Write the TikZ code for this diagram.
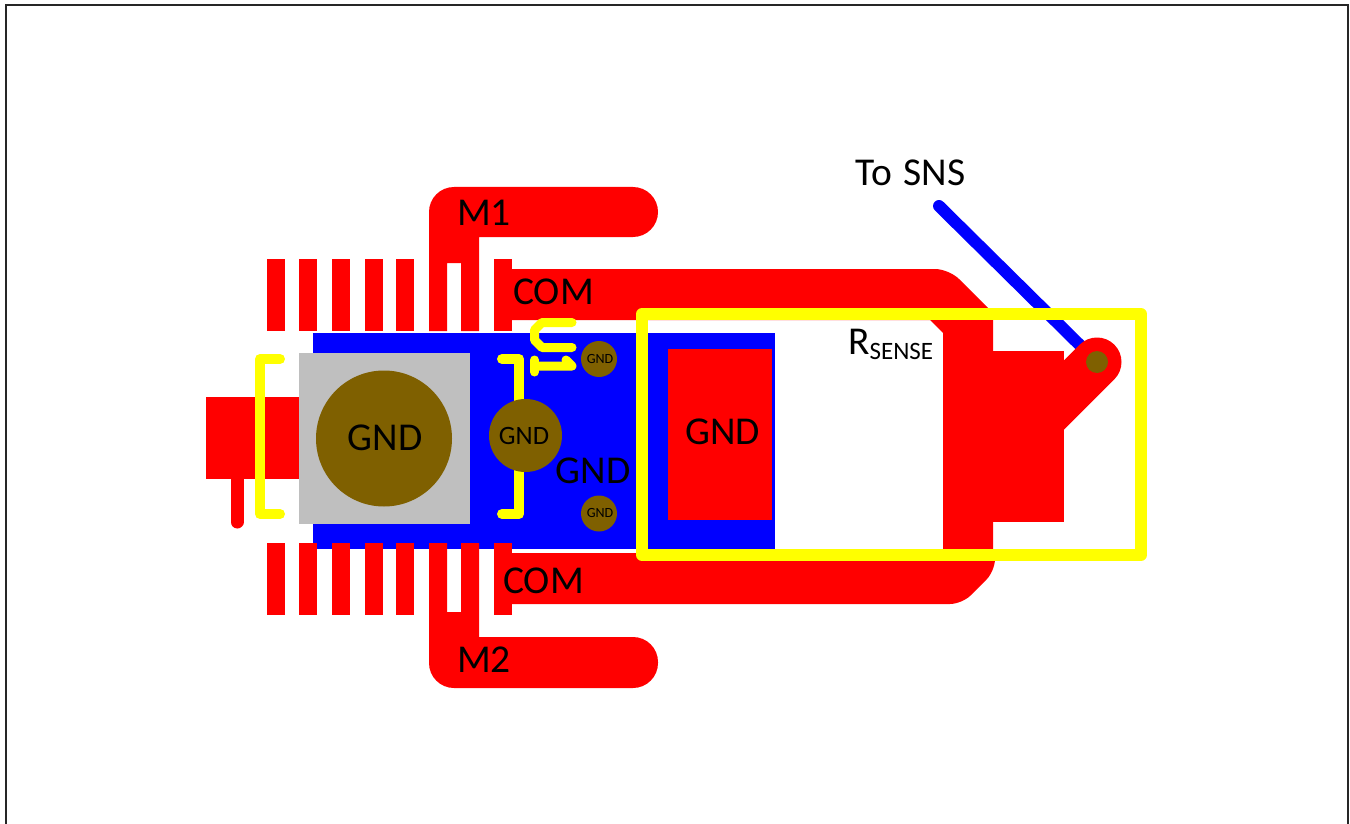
\documentclass[tikz,border=0pt]{standalone}
\usepackage{fontspec}
\setmainfont{Carlito}
\definecolor{viabrown}{HTML}{7F6000}
\definecolor{padgrey}{HTML}{BFBFBF}
\definecolor{silkyellow}{HTML}{FFFF00}

\begin{document}
\begin{tikzpicture}
  [x=1pt,y=-1pt,every node/.style={inner sep=0pt}]
 \tikzset{trace/.style={fill=red},
  silk/.style={draw=silkyellow,line width=10pt,line cap=round,line join=round},
  silkthin/.style={draw=silkyellow,line width=9pt,line cap=round,line join=round},
  wire/.style={draw=blue,line width=12pt,line cap=round},
  via/.style={circle,fill=viabrown,minimum size=#1,text=black},
  biglabel/.style={font=\fontsize{39.5}{39.5}\selectfont},
  midlabel/.style={font=\fontsize{26.5}{26.5}\selectfont},
  tinylabel/.style={font=\fontsize{14}{14}\selectfont}}

  \useasboundingbox (0,0) rectangle (1350,824);
  \draw[line width=2pt,black!85] (6,824) -- (6,5) -- (1348,5) -- (1348,824);

  \fill[blue] (313,333) rectangle (775,549);

  \coordinate (sns) at (939,206);
  \coordinate (padc) at (1097,362);
  \draw[wire] (sns) -- (padc);

 \foreach \xa/\xb in {267/285,299/317,332/350,365/383,396/414,494/512}
   {
    \fill[trace] (\xa,259) rectangle (\xb,331);
    \fill[trace] (\xa,543) rectangle (\xb,615);
   }

  \fill[trace] (429,331) [rounded corners=25pt] -- (429,187) -- (658,187) -- (658,237) [sharp corners] -- (479,237)
    -- (479,331) -- (461,331) -- (461,263) -- (447,263) -- (447,331) -- cycle;
  \fill[trace] (429,543) [rounded corners=25pt] -- (429,688) -- (658,688) -- (658,637) [sharp corners] -- (479,637)
    -- (479,543) -- (461,543) -- (461,612) -- (447,612) -- (447,543) -- cycle;

  \fill[trace] (512,269) [rounded corners=14pt] -- (949,269) [sharp corners] -- (993,313) -- (993,555) -- (943,555)
    -- (943,333) -- (930,320) -- (512,320) -- cycle;
  \fill[trace] (512,553) -- (995,553) [rounded corners=12pt] -- (995,571) -- (962,604) [sharp corners] -- (512,604) -- cycle;
  \fill[trace] (993,351) rectangle (1064,522);
  \draw[red,line width=49pt,line cap=round] (padc) -- (1045,414);

  \fill[trace] (206,397) rectangle (299,479);
  \draw[red,line width=13pt,line cap=round] (237,470) -- (237,522);
  \fill[padgrey] (299,353) rectangle (470,524);
  \fill[trace] (668,349) rectangle (772,520);

  \draw[silk] (280,359) -- (260,359) -- (260,514) -- (280,514);
  \draw[silk] (502,359) -- (519,359) -- (519,514) -- (502,514);
  \draw[silkthin] (572,322.5) -- (542,322.5) -- (534.5,330) -- (534.5,340) -- (542,347.5) -- (572,347.5);
  \draw[silkthin] (534.5,360) -- (534.5,372);
  \draw[silkthin] (534.5,366) -- (572,366) -- (566,360);
  \draw[draw=silkyellow,line width=12pt,line join=round] (642,314) rectangle (1141,555);

  \node[via=136pt,biglabel] (n1) at (384,438.5) {\raisebox{1.5pt}{\kern2pt GND}};
  \node[via=73pt,midlabel] (n2) at (525.5,435.5) {\kern-3pt GND};
  \node[via=36pt,tinylabel] (n3) at (599,359) {\kern2pt GND};
  \node[via=36pt,tinylabel] (n4) at (599,513.5) {\kern2pt GND};
  \node[via=22pt] (n5) at (padc) {};

  \node[biglabel] (m1) at (484,213) {M1};
  \node[biglabel] (m2) at (484,660) {M2};
  \node[biglabel] (com1) at (553.5,292) {COM};
  \node[biglabel] (com2) at (543.5,581) {COM};
  \node[biglabel] (gnd1) at (593,471) {GND};
  \node[biglabel] (gnd2) at (722.5,431.5) {GND};
  \node[biglabel] (tosns) at (910.5,173) {To\hspace{3pt} SNS};
  \node[biglabel,anchor=base west] (rsense) at (848,354) {R\raisebox{-5pt}{\fontsize{25}{25}\selectfont SENSE}};

\end{tikzpicture}
\end{document}
